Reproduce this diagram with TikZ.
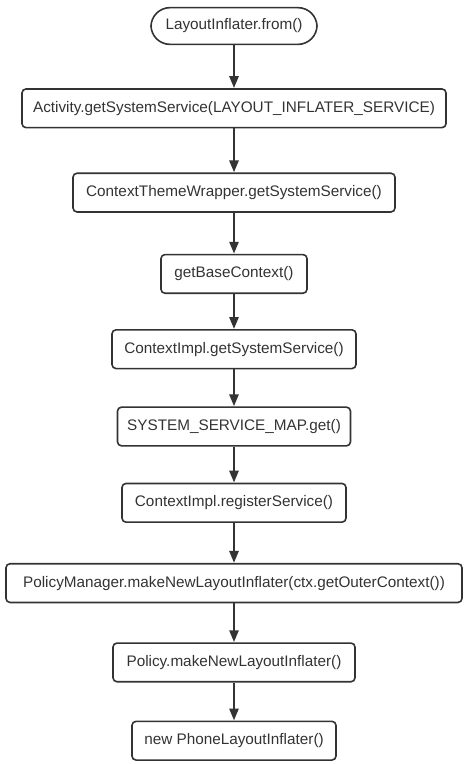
\documentclass[tikz,border=0pt]{standalone}
\usepackage{fontspec}
\setmainfont{Liberation Sans}
\usepackage{tikz}
\usetikzlibrary{arrows.meta, positioning}
\definecolor{ink}{HTML}{333333}

\begin{document}
\begin{tikzpicture}[>={Triangle[width=9pt,length=12pt]}, font=\fontsize{15.3}{17}\selectfont, text=ink]
	\tikzset{
		callbox/.style={rectangle, draw=ink, line width=1.6pt, rounded corners=4pt, minimum height=38.7pt, inner sep=2pt},
		startbox/.style={callbox, rounded corners=19pt, minimum height=36.7pt},
		flow/.style={->, draw=ink, line width=2.6pt}
	}
	\useasboundingbox (0,0) rectangle (470pt,-764pt);

	% --- Point de départ ---
	\node[startbox, minimum width=166pt] (from) at (234pt,-26pt) {LayoutInflater.from()};

	% --- Chaîne d'appels ---
	\node[callbox, minimum width=424pt, below=43pt of from] (activity) {Activity.getSystemService(LAYOUT\_INFLATER\_SERVICE)};
	\node[callbox, minimum width=322pt, below=44pt of activity] (wrapper) {ContextThemeWrapper.getSystemService()};
	\node[callbox, minimum width=146pt, below=41pt of wrapper] (base) {getBaseContext()};
	\node[callbox, minimum width=244pt, below=35pt of base] (impl) {ContextImpl.getSystemService()};
	\node[callbox, minimum width=233pt, below=37pt of impl] (map) {SYSTEM\_SERVICE\_MAP.get()};
	\node[callbox, minimum width=224pt, below=36pt of map] (register) {ContextImpl.registerService()};
	\node[callbox, minimum width=456pt, below=40pt of register] (manager) {PolicyManager.makeNewLayoutInflater(ctx.getOuterContext())};
	\node[callbox, minimum width=242pt, below=39pt of manager] (policy) {Policy.makeNewLayoutInflater()};
	\node[callbox, minimum width=204pt, below=38pt of policy] (phone) {new PhoneLayoutInflater()};

	% --- Flèches ---
	\foreach \a/\b in {from/activity, activity/wrapper, wrapper/base, base/impl, impl/map, map/register, register/manager, manager/policy, policy/phone} {
		\draw[flow] (\a.south) -- (\b.north);
	}
\end{tikzpicture}
\end{document}
